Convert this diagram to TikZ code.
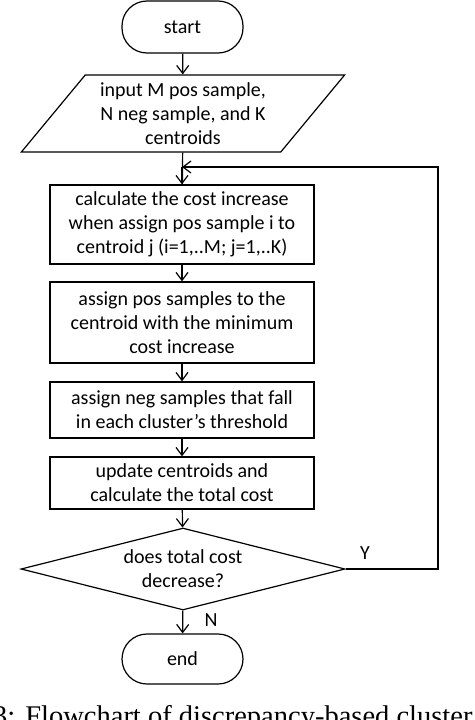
\documentclass[tikz,border=0pt]{standalone}
\usepackage{fontspec}
\setmainfont{Carlito}
\newfontfamily\captionfont{Liberation Serif}
\usetikzlibrary{shapes.geometric, positioning, arrows.meta}

\tikzset{
    flow/.style = {draw, line width=1.2pt, font=\fontsize{20}{24}\selectfont, align=center, inner sep=2pt},
    term/.style = {flow, rectangle, rounded corners=25pt, minimum width=121pt},
    procbox/.style = {flow, rectangle, minimum width=264pt},
    iobox/.style = {flow, trapezium, trapezium left angle=50, trapezium right angle=130,
        trapezium stretches=true, minimum width=324pt, minimum height=77pt},
    decide/.style = {flow, diamond, aspect=3.95, inner sep=0pt, minimum width=324pt, minimum height=82pt},
    arr/.style = {-{Straight Barb[length=8pt,width=12pt]}, line width=1.2pt},
    lbl/.style = {font=\fontsize{20}{24}\selectfont}
}

\begin{document}
\begin{tikzpicture}[x=1pt, y=1pt]
    \useasboundingbox (0,0) rectangle (474,-720);

    % Flow
    \node[term, minimum height=52pt] (start) at (182.5,-27) {start};
    \node[iobox] (input) at (183,-113.5) {input M pos sample,\\N neg sample, and K\\centroids};
    \node[procbox, minimum height=79pt] (cost) at (182,-224.5) {calculate the cost increase\\when assign pos sample i to\\centroid j (i=1,..M; j=1,..K)};
    \node[procbox, minimum height=81pt] (pos) at (182,-322.5) {assign pos samples to the\\centroid with the minimum\\cost increase};
    \node[procbox, minimum height=56pt] (neg) at (182,-410) {assign neg samples that fall\\in each cluster's threshold};
    \node[procbox, minimum height=52pt] (update) at (182,-483) {update centroids and\\calculate the total cost};
    \node[decide] (dec) at (183,-569) {does total cost\\decrease?};
    \node[term, minimum height=50pt] (end) at (182.5,-659) {end};

    \coordinate (join) at (182,-167);
    \coordinate (corner) at (438,-167);

    \draw[arr] (start) -- (input);
    \draw[line width=1.2pt] (input) -- (cost);
    \draw[arr] (join) -- (cost);
    \draw[arr] (cost) -- (pos);
    \draw[arr] (pos) -- (neg);
    \draw[arr] (neg) -- (update);
    \draw[arr] (update) -- (dec);
    \draw[arr] (dec) -- (end);
    \draw[arr] (dec.east) -| (corner) -- (join);

    \node[lbl] (yes) at (365,-553) {Y};
    \node[lbl] (no) at (211,-620) {N};

    % caption (cut off by the page)
    \node[font=\captionfont\fontsize{28.5}{30}\selectfont, anchor=base west, inner sep=0pt] (cap) at (-7,-725) {3:\hspace{10pt}Flowchart of discrepancy-based cluster};
\end{tikzpicture}
\end{document}
